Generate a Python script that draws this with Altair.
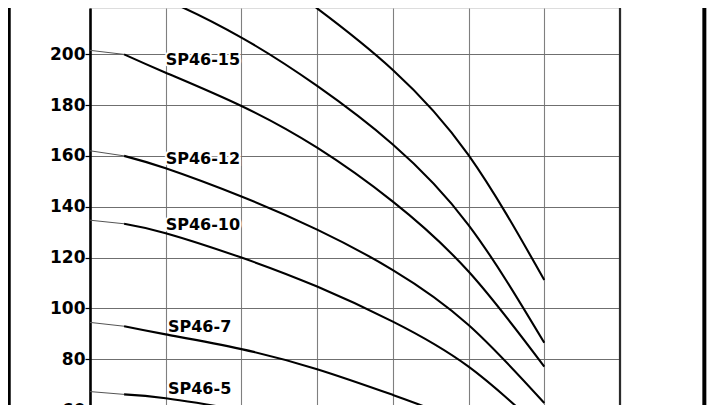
import altair as alt
import pandas as pd

# flow positions (grid units) at which the head was read
X_PTS = [0, 0.45, 1, 2, 3, 4, 5, 6]

SERIES = ["SP46-20", "SP46-17", "SP46-15", "SP46-12", "SP46-10", "SP46-7", "SP46-5"]
HEAD_20 = [257.0, 255.0, 251.0, 238.0, 218.0, 193.8, 160.3, 111.2]
HEAD_17 = [229.0, 226.6, 221.3, 206.5, 187.5, 164.5, 132.8, 86.5]
HEAD_15 = [201.5, 199.9, 192.7, 179.6, 163.2, 142.0, 114.5, 77.1]
HEAD_12 = [162.0, 160.0, 155.1, 144.0, 131.0, 115.1, 93.5, 62.8]
HEAD_10 = [134.7, 133.3, 129.6, 120.0, 108.6, 94.8, 77.1, 51.5]
HEAD_7 = [94.5, 93.0, 89.8, 84.0, 76.1, 66.0, 54.0, 36.0]
HEAD_5 = [67.3, 66.2, 64.7, 60.0, 54.5, 47.5, 38.8, 25.8]
HEADS = [HEAD_20, HEAD_17, HEAD_15, HEAD_12, HEAD_10, HEAD_7, HEAD_5]

LABELS = ["SP46-15", "SP46-12", "SP46-10", "SP46-7", "SP46-5"]
LABEL_X = [1.0, 1.0, 1.0, 1.03, 1.03]
LABEL_Y = [195.7, 156.8, 130.85, 90.9, 66.3]

Y_TICKS = [40, 60, 80, 100, 120, 140, 160, 180, 200, 220]
X_GRID = [0, 1, 2, 3, 4, 5, 6, 7]

# frame lines: outer frame left, plot right border, outer frame right
FRAME_X = [-1.07, 7.0, 8.114]
FRAME_W = [3.5, 2.2, 4.0]
FRAME_C = ["#000000", "#2b2b2b", "#000000"]

rows = []
for name, heads in zip(SERIES, HEADS):
    for i, (x, h) in enumerate(zip(X_PTS, heads)):
        if i <= 1:
            rows.append({"series": name, "x": x, "h": h, "seg": "thin"})
        if i >= 1:
            rows.append({"series": name, "x": x, "h": h, "seg": "thick"})
curves = pd.DataFrame(rows)
labels = pd.DataFrame({"label": LABELS, "x": LABEL_X, "h": LABEL_Y})
frame = pd.DataFrame({"x": FRAME_X, "w": FRAME_W, "c": FRAME_C})

xscale = alt.Scale(domain=[0, 7], nice=False, zero=False)
yscale = alt.Scale(domain=[40, 218.15], nice=False, zero=False)

xaxis = alt.Axis(values=X_GRID, grid=True, labels=False, ticks=False, domain=False,
                 title="", gridColor="#7f7f7f", gridWidth=1.1, gridOpacity=1)
yaxis = alt.Axis(values=Y_TICKS, grid=True, title="", labelFont="DejaVu Sans",
                 labelFontWeight="bold", labelFontSize=17, labelColor="#000000",
                 tickColor="#000000", tickSize=5, tickWidth=1.2, labelPadding=0,
                 domainColor="#000000", domainWidth=2.6, gridColor="#6f6f6f",
                 gridWidth=1.1, gridOpacity=1)

thick = alt.Chart(curves).transform_filter(alt.datum.seg == "thick").mark_line(
    interpolate="natural", color="#000000", strokeWidth=2.1
).encode(
    x=alt.X("x:Q", scale=xscale, axis=xaxis),
    y=alt.Y("h:Q", scale=yscale, axis=yaxis),
    detail="series:N",
)

thin = alt.Chart(curves).transform_filter(alt.datum.seg == "thin").mark_line(
    color="#555555", strokeWidth=1.0
).encode(
    x=alt.X("x:Q", scale=xscale),
    y=alt.Y("h:Q", scale=yscale),
    detail="series:N",
)

halo = alt.Chart(labels).mark_text(
    align="left", baseline="alphabetic", font="DejaVu Sans", fontSize=16,
    fontWeight="bold", color="#ffffff", stroke="#ffffff", strokeWidth=4
).encode(x=alt.X("x:Q", scale=xscale), y=alt.Y("h:Q", scale=yscale), text="label:N")

text = alt.Chart(labels).mark_text(
    align="left", baseline="alphabetic", font="DejaVu Sans", fontSize=16,
    fontWeight="bold", color="#000000"
).encode(x=alt.X("x:Q", scale=xscale), y=alt.Y("h:Q", scale=yscale), text="label:N")

frames = alt.Chart(frame).mark_rule().encode(
    x=alt.X("x:Q", scale=xscale),
    strokeWidth=alt.StrokeWidth("w:Q", scale=None),
    color=alt.Color("c:N", scale=None),
)

chart = alt.layer(halo, thick, thin, text, frames).properties(
    width=530, height=453,
    autosize=alt.AutoSizeParams(type="none"),
    padding={"left": 82, "top": 0, "right": 92, "bottom": 0},
).configure_view(stroke=None).configure(background="#ffffff")

chart.save("out.html", embed_options={"renderer": "svg", "actions": False})
